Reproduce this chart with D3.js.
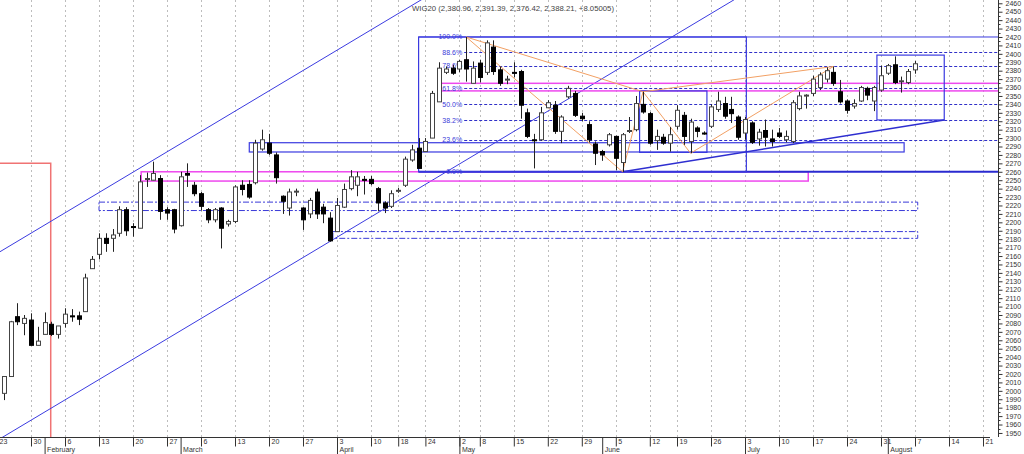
<!DOCTYPE html>
<html>
<head>
<meta charset="utf-8">
<script src="https://cdn.jsdelivr.net/npm/d3@7"></script>
<style>
  body { margin: 0; background: #fff; }
  text { font-family: "Liberation Sans", Arial, sans-serif; }
</style>
</head>
<body>
<svg id="chart" width="1024" height="454"></svg>
<script>
// trading-day index 0 = Jan 23 (2017)
const weekIdx = [0,5,10,15,20,25,30,35,40,45,50,55,59,63,68,71,76,81,86,91,96,100,105,110,115,120,125,130,135,140,145];
const weekLabels = ["23","30","6","13","20","27","6","13","20","27","3","10","18","24","2","8","15","22","29","5","12","19","26","3","10","17","24","31","7","14","21"];
const monthIdx = [7,27,50,68,89,110,131];
const monthLabels = ["February","March","April","May","June","July","August"];

// daily candles, first one is index 1 (Jan 24)
const firstIdx = 1;
const candleOpen = [1997,2017,2088,2080,2084,2054,2067,2079,2067,2080,2089,2089,2094,2145,2162,2181,2181,2187,2215,2195,
  2193,2251,2250,2252,2215,2215,2196,2258,2244,2234,2215,2203,2217,2198,2201,2244,2245,2247,2287,2294,
  2280,2231,2217,2236,2217,2210,2236,2218,2205,2189,2218,2240,2244,2251,2251,2240,2223,2219,2237,2244,
  2274,2288,2284,2300,2343,2378,2383,2382,2393,2365,2389,2378,2408,2381,2369,2378,2379,2330,2298,2298,
  2336,2339,2308,2349,2353,2326,2316,2293,2284,2292,2302,2271,2308,2310,2340,2329,2297,2301,2294,2314,
  2327,2296,2312,2306,2314,2334,2341,2334,2325,2306,2318,2299,2309,2299,2306,2298,2296,2335,2350,2353,
  2360,2370,2378,2355,2344,2338,2344,2359,2344,2357,2377,2387,2367,2366,2380.96];
const candleHigh = [2017,2083,2104,2090,2092,2076,2093,2082,2077,2098,2097,2094,2139,2160,2187,2187,2192,2219,2218,2199,
  2256,2259,2272,2256,2218,2216,2260,2270,2248,2236,2217,2217,2218,2203,2244,2250,2250,2298,2310,2305,
  2283,2232,2240,2240,2218,2229,2240,2222,2212,2229,2246,2262,2260,2255,2255,2242,2225,2238,2241,2278,
  2292,2300,2300,2356,2390,2385,2387,2393,2420,2391,2393,2416,2416,2385,2374,2390,2381,2335,2305,2337,
  2345,2344,2327,2362,2356,2330,2320,2296,2286,2306,2303,2306,2325,2350,2355,2331,2310,2305,2313,2339,
  2331,2323,2314,2308,2340,2355,2349,2349,2327,2325,2320,2311,2322,2310,2312,2309,2345,2355,2352,2374,
  2378,2384,2385,2369,2346,2346,2362,2361,2362,2386,2388,2397,2373,2382,2391.39];
const candleLow = [1989,2017,2078,2066,2054,2054,2067,2065,2062,2075,2082,2078,2094,2145,2156,2165,2165,2183,2184,2183,
  2193,2242,2250,2203,2203,2187,2195,2242,2231,2214,2199,2200,2169,2195,2199,2232,2228,2245,2285,2280,
  2246,2210,2208,2231,2191,2205,2204,2199,2177,2189,2217,2238,2231,2233,2244,2213,2211,2217,2235,2242,
  2272,2264,2284,2300,2343,2376,2375,2378,2367,2365,2366,2375,2375,2362,2364,2372,2323,2300,2264,2297,
  2336,2305,2294,2347,2325,2320,2295,2268,2273,2290,2262,2260,2306,2308,2329,2292,2286,2292,2284,2310,
  2292,2282,2301,2304,2312,2331,2323,2318,2298,2298,2293,2291,2290,2290,2300,2295,2294,2333,2335,2350,
  2357,2366,2362,2341,2329,2335,2343,2345,2332,2355,2375,2364,2354,2364,2376.42];
const candleClose = [2017,2082,2082,2086,2054,2059,2081,2067,2077,2091,2088,2085,2134,2156,2181,2175,2185,2215,2190,2194,
  2248,2252,2258,2213,2211,2192,2254,2256,2234,2219,2203,2215,2193,2201,2242,2239,2230,2294,2298,2282,
  2253,2225,2236,2237,2203,2226,2210,2210,2178,2220,2239,2254,2254,2250,2246,2223,2217,2234,2238,2275,
  2286,2264,2296,2353,2383,2382,2377,2391,2382,2383,2372,2413,2379,2365,2370,2377,2339,2302,2297,2330,
  2342,2308,2325,2359,2327,2323,2298,2282,2280,2304,2276,2304,2309,2341,2331,2294,2302,2294,2304,2333,
  2302,2319,2308,2305,2337,2344,2326,2329,2301,2322,2295,2307,2301,2296,2302,2302,2342,2350,2351,2370,
  2375,2380,2365,2343,2333,2341,2360,2351,2360,2374,2386,2366,2368,2379,2388.21];

// fibonacci retracement between the May high and the June low
const fibHigh = 2420, fibLow = 2260;
const fibPct = [100, 88.6, 78.6, 61.8, 50, 38.2, 23.6, 0];
const fibStartIdx = 69;

// annotation boxes: [fromIdx, toIdx, topValue, bottomValue]
const blueBoxes = [[62, 110.2, 2420, 2260], [37.1, 133.4, 2294.5, 2283.5], [94.5, 104.4, 2356, 2283], [129.4, 139.3, 2398.5, 2321.5]];
const pinkBoxes = [[65.1, 160, 2365, 2356], [21.2, 119.3, 2260, 2249]];
const dashDotBoxes = [[15, 135.4, 2224, 2214], [49.4, 135.4, 2189, 2181]];
// orange swing points: A high, B low, C, D, E
const swingIdx = [69, 92, 95, 102, 123];
const swingVal = [2420, 2260, 2355, 2282, 2385];
const swingLinks = [[0,1],[0,2],[1,2],[2,3],[3,4],[2,4]];
// channel: lower line through two points, upper parallel at an offset
const channelIdx = [49, 90];
const channelVal = [2177.5, 2375.4];
const channelOffset = 222;
const riseIdx = [92, 139.3];
const riseVal = [2260, 2321.5];
const redMarkIdx = 7.9, redMarkVal = 2270;
const title = "WIG20 (2,380.96, 2,391.39, 2,376.42, 2,388.21, +8.05005)";

const svg = d3.select("#chart");
const W = 1024, plotRight = 998, plotBottom = 437;

const x = d3.scaleLinear().domain([0, 145]).range([-3, 983]);
const y = d3.scaleLinear().domain([1945.2, 2463.9]).range([plotBottom, 0]);

svg.append("rect").attr("width", W).attr("height", 454).attr("fill", "#fff");
svg.append("defs").append("clipPath").attr("id", "plot")
  .append("rect").attr("x", 0).attr("y", 0).attr("width", plotRight).attr("height", plotBottom);

const plot = svg.append("g").attr("clip-path", "url(#plot)");

// dotted week grid
plot.append("g").selectAll("line").data(weekIdx).join("line")
  .attr("x1", d => Math.round(x(d)) + 0.5).attr("x2", d => Math.round(x(d)) + 0.5)
  .attr("y1", 0).attr("y2", plotBottom)
  .attr("stroke", "#bdbdbd").attr("stroke-dasharray", "2,3");

// red marker
plot.append("path")
  .attr("d", `M0,${y(redMarkVal)}H${x(redMarkIdx)}V${plotBottom}`)
  .attr("fill", "none").attr("stroke", "#f07373").attr("stroke-width", 1.5);

// channel lines
const slope = (channelVal[1] - channelVal[0]) / (channelIdx[1] - channelIdx[0]);
const chan = (i, off) => channelVal[0] + (i - channelIdx[0]) * slope + off;
[0, channelOffset].forEach(off => {
  plot.append("line")
    .attr("x1", x(-2)).attr("y1", y(chan(-2, off)))
    .attr("x2", x(125)).attr("y2", y(chan(125, off)))
    .attr("stroke", "#3b3be0").attr("stroke-width", 1);
});

// pink boxes
plot.append("g").selectAll("rect").data(pinkBoxes).join("rect")
  .attr("x", d => x(d[0])).attr("y", d => y(d[2]))
  .attr("width", d => x(d[1]) - x(d[0])).attr("height", d => y(d[3]) - y(d[2]))
  .attr("fill", "none").attr("stroke", "#ee48ee").attr("stroke-width", 1.5);

// dash-dot boxes
plot.append("g").selectAll("rect").data(dashDotBoxes).join("rect")
  .attr("x", d => x(d[0])).attr("y", d => y(d[2]))
  .attr("width", d => x(d[1]) - x(d[0])).attr("height", d => y(d[3]) - y(d[2]))
  .attr("fill", "none").attr("stroke", "#3a3ad8").attr("stroke-width", 1)
  .attr("stroke-dasharray", "6,2,2,2");

// fib levels
const fibVal = p => fibLow + p / 100 * (fibHigh - fibLow);
plot.append("g").selectAll("line").data(fibPct.filter(p => p > 0 && p < 100)).join("line")
  .attr("x1", x(fibStartIdx) - 2).attr("x2", plotRight)
  .attr("y1", p => Math.round(y(fibVal(p))) + 0.5).attr("y2", p => Math.round(y(fibVal(p))) + 0.5)
  .attr("stroke", "#3030c8").attr("stroke-dasharray", "3,2");
plot.append("line").attr("x1", x(blueBoxes[0][0])).attr("x2", plotRight)
  .attr("y1", y(fibHigh)).attr("y2", y(fibHigh)).attr("stroke", "#3a3ae0");
plot.append("line").attr("x1", x(blueBoxes[0][0])).attr("x2", plotRight)
  .attr("y1", y(fibLow)).attr("y2", y(fibLow)).attr("stroke", "#2a2ad0").attr("stroke-width", 2);
plot.append("g").selectAll("text").data(fibPct).join("text")
  .attr("x", x(fibStartIdx) - 4).attr("y", p => y(fibVal(p)) + 2.5)
  .attr("text-anchor", "end").attr("font-size", 7).attr("fill", "#3a3ad8")
  .text(p => p.toFixed(1) + "%");

// blue boxes
plot.append("g").selectAll("rect").data(blueBoxes).join("rect")
  .attr("x", d => x(d[0])).attr("y", d => y(d[2]))
  .attr("width", d => x(d[1]) - x(d[0])).attr("height", d => y(d[3]) - y(d[2]))
  .attr("fill", "none").attr("stroke", "#3a3ae0").attr("stroke-width", 1.2);

// rising support line
plot.append("line")
  .attr("x1", x(riseIdx[0])).attr("y1", y(riseVal[0]))
  .attr("x2", x(riseIdx[1])).attr("y2", y(riseVal[1]))
  .attr("stroke", "#2e2ed0").attr("stroke-width", 1.5);

// orange swings
plot.append("g").selectAll("line").data(swingLinks).join("line")
  .attr("x1", d => x(swingIdx[d[0]])).attr("y1", d => y(swingVal[d[0]]))
  .attr("x2", d => x(swingIdx[d[1]])).attr("y2", d => y(swingVal[d[1]]))
  .attr("stroke", "#f2a064").attr("stroke-width", 1);

// candles
const candles = candleOpen.map((o, k) => ({
  i: firstIdx + k, o: o, h: candleHigh[k], l: candleLow[k], c: candleClose[k]
}));
const cg = plot.append("g");
cg.selectAll("line").data(candles).join("line")
  .attr("x1", d => Math.round(x(d.i)) + 0.5).attr("x2", d => Math.round(x(d.i)) + 0.5)
  .attr("y1", d => y(d.h)).attr("y2", d => y(d.l))
  .attr("stroke", "#222");
cg.selectAll("rect").data(candles).join("rect")
  .attr("x", d => Math.round(x(d.i)) - 2 + 0.5)
  .attr("y", d => y(Math.max(d.o, d.c)))
  .attr("width", 4)
  .attr("height", d => Math.max(1, Math.abs(y(d.o) - y(d.c))))
  .attr("fill", d => d.c >= d.o ? "#fff" : "#000")
  .attr("stroke", d => d.c >= d.o ? "#444" : "#000").attr("stroke-width", 1);

// title
svg.append("text").attr("x", 412).attr("y", 11).attr("font-size", 7.5).attr("fill", "#444")
  .attr("textLength", 202).attr("lengthAdjust", "spacingAndGlyphs").text(title);

// right axis
const yAxis = d3.axisRight(y).tickValues(d3.range(1950, 2461, 10)).tickSize(4).tickSizeOuter(0)
  .tickFormat(d3.format("d"));
const ya = svg.append("g").attr("transform", `translate(${plotRight + 0.5},0)`).call(yAxis);
ya.select(".domain").attr("d", `M0,0V${plotBottom}`).attr("stroke", "#333");
ya.selectAll(".tick line").attr("stroke", "#333");
ya.selectAll(".tick text").attr("x", 7).attr("font-size", 7).attr("fill", "#333")
  .attr("font-family", "Liberation Sans, Arial, sans-serif");
ya.append("g").selectAll("line").data(d3.range(1955, 2461, 10)).join("line")
  .attr("x1", 0).attr("x2", 2).attr("y1", d => Math.round(y(d)) + 0.5).attr("y2", d => Math.round(y(d)) + 0.5)
  .attr("stroke", "#333");

// bottom axis: weeks
const xw = d3.axisBottom(x).tickValues(weekIdx).tickSize(9).tickSizeOuter(0)
  .tickFormat((d, k) => weekLabels[k]);
const xa = svg.append("g").attr("transform", `translate(0,${plotBottom + 0.5})`).call(xw);
xa.select(".domain").remove();
xa.selectAll(".tick line").attr("stroke", "#333");
xa.selectAll(".tick text").attr("text-anchor", "start").attr("x", 2).attr("y", 2)
  .attr("font-size", 7).attr("fill", "#333").attr("font-family", "Liberation Sans, Arial, sans-serif");
svg.append("line").attr("x1", 0).attr("x2", 990).attr("y1", plotBottom + 0.5).attr("y2", plotBottom + 0.5)
  .attr("stroke", "#333");

// bottom axis: months
const xm = d3.axisBottom(x).tickValues(monthIdx).tickSize(17).tickSizeOuter(0)
  .tickFormat((d, k) => monthLabels[k]);
const xma = svg.append("g").attr("transform", `translate(0,${plotBottom + 0.5})`).call(xm);
xma.select(".domain").remove();
xma.selectAll(".tick line").attr("stroke", "#333");
xma.selectAll(".tick text").attr("text-anchor", "start").attr("x", 2).attr("y", 10)
  .attr("font-size", 7).attr("fill", "#333").attr("font-family", "Liberation Sans, Arial, sans-serif");
</script>
</body>
</html>
